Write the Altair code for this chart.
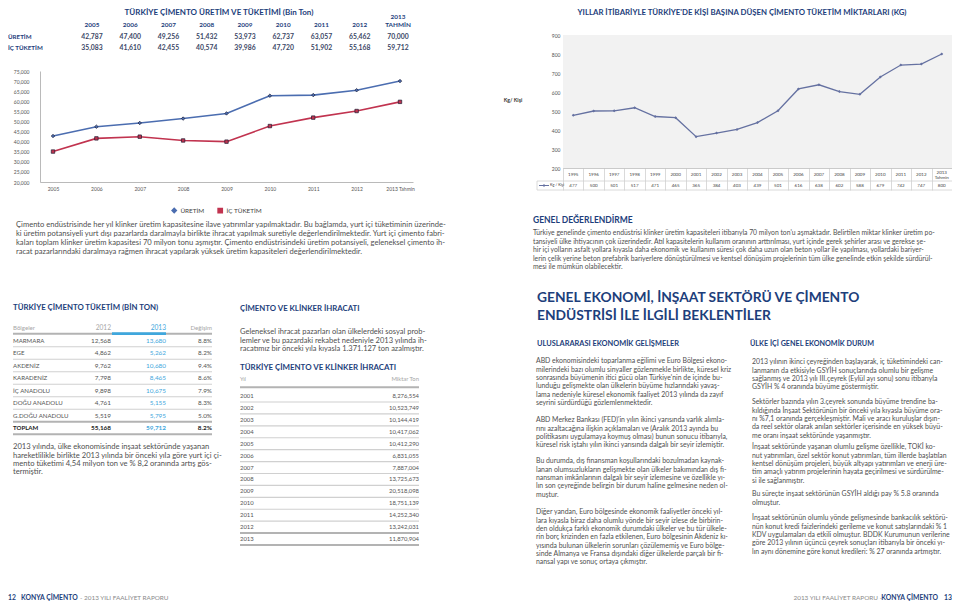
import altair as alt
import pandas as pd

# ---------------- data ----------------
prod_years = ["2005", "2006", "2007", "2008", "2009", "2010", "2011", "2012", "2013"]
prod_header = ["2005", "2006", "2007", "2008", "2009", "2010", "2011", "2012", "TAHMİN"]
prod_header_top = ["", "", "", "", "", "", "", "", "2013"]
series_names = ["ÜRETİM", "İÇ TÜKETİM"]
uretim = [42787, 47400, 49256, 51432, 53973, 62737, 63057, 65462, 70000]
ic_tuketim = [35083, 41610, 42455, 40574, 39986, 47720, 51902, 55168, 59712]
prod_ticks = [20000, 25000, 30000, 35000, 40000, 45000, 50000, 55000, 60000, 65000, 70000, 75000]

kg_years = ["1995", "1996", "1997", "1998", "1999", "2000", "2001", "2002", "2003", "2004",
            "2005", "2006", "2007", "2008", "2009", "2010", "2011", "2012", "2013"]
kg_labels = ["1995", "1996", "1997", "1998", "1999", "2000", "2001", "2002", "2003", "2004",
             "2005", "2006", "2007", "2008", "2009", "2010", "2011", "2012", "2013\nTahmin"]
kg_values = [477, 500, 501, 517, 471, 465, 365, 384, 403, 439, 501, 616, 638, 602, 588, 679, 742, 747, 800]
kg_ticks = [200, 300, 400, 500, 600, 700, 800, 900]

regions = ["MARMARA", "EGE", "AKDENİZ", "KARADENİZ", "İÇ ANADOLU", "DOĞU ANADOLU", "G.DOĞU ANADOLU", "TOPLAM"]
cons_2012 = [12568, 4862, 9762, 7798, 9898, 4761, 5519, 55168]
cons_2013 = [13680, 5262, 10680, 8465, 10675, 5155, 5795, 59712]
cons_change = ["8.8%", "8.2%", "9.4%", "8.6%", "7.9%", "8.3%", "5.0%", "8.2%"]

export_years = ["2001", "2002", "2003", "2004", "2005", "2006", "2007", "2008", "2009", "2010", "2011", "2012", "2013"]
export_tons = [8276554, 10523749, 10144419, 10417062, 10412290, 6831055, 7887004, 13725673,
               20518098, 18751139, 14252340, 13242031, 11870904]

# ---------------- texts ----------------
title_left = "TÜRKİYE ÇİMENTO ÜRETİM VE TÜKETİMİ (Bin Ton)"
title_right = "YILLAR İTİBARİYLE TÜRKİYE'DE KİŞİ BAŞINA DÜŞEN ÇİMENTO TÜKETİM MİKTARLARI (KG)"
para_left = [
    "Çimento endüstrisinde  her yıl klinker üretim kapasitesine ilave yatırımlar yapılmaktadır. Bu bağlamda, yurt içi tüketiminin üzerinde-",
    "ki üretim potansiyeli yurt dışı pazarlarda daralmayla birlikte ihracat yapılmak suretiyle değerlendirilmektedir. Yurt içi çimento fabri-",
    "kaları toplam klinker üretim kapasitesi 70 milyon tonu aşmıştır. Çimento endüstrisindeki üretim potansiyeli, geleneksel çimento ih-",
    "racat pazarlarındaki daralmaya rağmen ihracat yapılarak yüksek üretim kapasiteleri değerlendirilmektedir.",
]
genel_title = "GENEL DEĞERLENDİRME"
genel_para = [
    "Türkiye genelinde çimento endüstrisi klinker üretim kapasiteleri itibarıyla 70 milyon ton'u aşmaktadır. Belirtilen miktar klinker üretim po-",
    "tansiyeli ülke ihtiyacının çok üzerindedir. Atıl kapasitelerin kullanım oranının arttırılması, yurt içinde gerek şehirler arası ve gerekse şe-",
    "hir içi yolların asfalt yollara kıyasla daha ekonomik ve kullanım süresi çok daha uzun olan beton yollar ile yapılması, yollardaki bariyer-",
    "lerin çelik yerine beton prefabrik bariyerlere dönüştürülmesi ve kentsel dönüşüm projelerinin tüm ülke genelinde etkin şekilde sürdürül-",
    "mesi ile mümkün olabilecektir.",
]
cons_title = "TÜRKİYE ÇİMENTO TÜKETİM (BİN TON)"
cons_para = [
    "2013 yılında, ülke ekonomisinde inşaat sektöründe  yaşanan",
    "hareketlilikle birlikte 2013 yılında bir önceki yıla göre yurt içi çi-",
    "mento tüketimi  4,54 milyon ton ve % 8,2 oranında artış gös-",
    "termiştir.",
]
exp_title = "ÇİMENTO VE KLİNKER İHRACATI"
exp_para = [
    "Geleneksel ihracat pazarları olan ülkelerdeki sosyal prob-",
    "lemler ve bu pazardaki rekabet nedeniyle 2013 yılında ih-",
    "racatımız bir önceki yıla kıyasla 1.371.127 ton azalmıştır.",
]
exp_table_title = "TÜRKİYE ÇİMENTO VE KLİNKER İHRACATI"
big_title = ["GENEL EKONOMİ, İNŞAAT SEKTÖRÜ VE ÇİMENTO", "ENDÜSTRİSİ İLE İLGİLİ BEKLENTİLER"]
sub_left = "ULUSLARARASI EKONOMİK GELİŞMELER"
sub_right = "ÜLKE İÇİ GENEL EKONOMİK DURUM"
col_left = [
    ["ABD ekonomisindeki toparlanma eğilimi ve Euro Bölgesi ekono-",
     "milerindeki bazı olumlu sinyaller gözlenmekle birlikte, küresel kriz",
     "sonrasında büyümenin itici gücü olan Türkiye'nin de içinde bu-",
     "lunduğu gelişmekte olan ülkelerin büyüme hızlarındaki yavaş-",
     "lama nedeniyle küresel ekonomik faaliyet 2013 yılında da zayıf",
     "seyrini sürdürdüğü gözlemlenmektedir."],
    ["ABD Merkez Bankası (FED)'in yılın ikinci yarısında varlık alımla-",
     "rını azaltacağına ilişkin açıklamaları ve (Aralık 2013 ayında bu",
     "politikasını uygulamaya koymuş olması) bunun sonucu itibarıyla,",
     "küresel risk iştahı yılın ikinci yarısında dalgalı bir seyir izlemiştir."],
    ["Bu durumda, dış finansman koşullarındaki bozulmadan kaynak-",
     "lanan olumsuzlukların gelişmekte olan ülkeler bakımından dış fi-",
     "nansman imkânlarının dalgalı bir seyir izlemesine ve özellikle yı-",
     "lın son çeyreğinde belirgin bir durum haline gelmesine neden ol-",
     "muştur."],
    ["Diğer yandan, Euro bölgesinde ekonomik faaliyetler önceki yıl-",
     "lara kıyasla biraz daha olumlu yönde bir seyir izlese de birbirin-",
     "den oldukça farklı ekonomik durumdaki ülkeler ve bu tür ülkele-",
     "rin borç krizinden en fazla etkilenen, Euro bölgesinin Akdeniz kı-",
     "yısında bulunan ülkelerin sorunları çözülememiş ve Euro bölge-",
     "sinde Almanya ve Fransa dışındaki diğer ülkelerde parçalı bir fi-",
     "nansal yapı ve sonuç ortaya çıkmıştır."],
]
col_left_y = [362, 421, 462, 513]
col_right = [
    ["2013 yılının ikinci çeyreğinden başlayarak, iç tüketimindeki can-",
     "lanmanın da etkisiyle GSYİH sonuçlarında olumlu bir gelişme",
     "sağlanmış ve 2013 yılı III.çeyrek (Eylül ayı sonu) sonu itibarıyla",
     "GSYİH % 4 oranında büyüme göstermiştir."],
    ["Sektörler bazında yılın 3.çeyrek sonunda büyüme trendine ba-",
     "kıldığında İnşaat Sektörünün bir önceki yıla kıyasla büyüme ora-",
     "nı %7,1 oranında gerçekleşmiştir. Mali ve aracı kuruluşlar dışın-",
     "da reel sektör olarak anılan sektörler içerisinde en yüksek büyü-",
     "me oranı inşaat sektöründe yaşanmıştır."],
    ["İnşaat sektöründe yaşanan olumlu gelişme özellikle, TOKİ ko-",
     "nut yatırımları, özel sektör konut yatırımları, tüm illerde başlatılan",
     "kentsel dönüşüm projeleri, büyük altyapı yatırımları ve enerji üre-",
     "tim amaçlı yatırım projelerinin hayata geçirilmesi ve sürdürülme-",
     "si ile sağlanmıştır."],
    ["Bu süreçte inşaat sektörünün GSYİH aldığı pay % 5.8 oranında",
     "olmuştur."],
    ["İnşaat sektörünün olumlu yönde gelişmesinde bankacılık sektörü-",
     "nün konut kredi faizlerindeki gerileme ve konut satışlarındaki % 1",
     "KDV uygulamaları da etkili olmuştur. BDDK Kurumunun verilerine",
     "göre 2013 yılının üçüncü çeyrek sonuçları itibarıyla bir önceki yı-",
     "lın aynı dönemine göre konut kredileri: % 27 oranında artmıştır."],
]
col_right_y = [363, 403, 448, 495, 519]

# ---------------- layout helpers (page pixels -> canvas pixels) ----------------
W, H = 944, 594


def X(px):
    return round(min(max(px, 8), 952) - 8, 2)


def Y(py):
    return round(min(max(py, 8), 602) - 8, 2)


FONT = "Lato"
NAVY = "#1d3e7b"
TXT = "#4f4f4f"
LIGHT = "#a6a6a6"
LBLUE = "#3fa7dd"
BLUE = "#4b6db0"
RED = "#c1334f"
SLATE = "#6571a1"
RULE = "#d0d0d0"
RULE_DARK = "#b3b3b3"

ONE = pd.DataFrame({"k": [0]})


def txt(text, x, y, size, color=TXT, bold=False, align="left", lh=None, caps=False):
    kw = dict(align=align, baseline="top", font=FONT, fontSize=size, color=color)
    if bold:
        kw["fontWeight"] = "bold"
    if lh is not None:
        kw["lineHeight"] = lh
    dy = (0.43 if caps else 0.53) * size
    return alt.Chart(ONE).mark_text(**kw).encode(
        x=alt.value(X(x)), y=alt.value(round(Y(y) - dy, 2)), text=alt.value(text))


def hline(x1, x2, y, color=RULE, width=1.0):
    return alt.Chart(ONE).mark_rule(color=color, strokeWidth=width).encode(
        x=alt.value(X(x1)), x2=alt.value(X(x2)), y=alt.value(Y(y)))


layers = []

# ============ top-left: production table ============
prod_df = pd.DataFrame({
    "year": prod_years * 2,
    "series": [series_names[0]] * len(prod_years) + [series_names[1]] * len(prod_years),
    "value": uretim + ic_tuketim,
})
head_df = pd.DataFrame({"year": prod_years, "head": prod_header, "top": prod_header_top})

x_tbl = alt.X("year:N", sort=prod_years, title=None, axis=None,
              scale=alt.Scale(type="point", domain=prod_years, range=[X(92), X(398)], padding=0))
y_tbl = alt.Y("series:N", sort=series_names, title=None, axis=None,
              scale=alt.Scale(type="point", domain=series_names, range=[Y(37), Y(48)], padding=0))

layers.append(txt(title_left, 219, 12.5, 8.0, color=NAVY, bold=True, align="center", caps=True))
layers.append(alt.Chart(head_df).mark_text(
    font=FONT, fontSize=6.4, fontWeight="bold", color=NAVY, baseline="middle").encode(
    x=x_tbl, y=alt.value(Y(25)), text="head:N"))
layers.append(alt.Chart(head_df).mark_text(
    font=FONT, fontSize=6.4, fontWeight="bold", color=NAVY, baseline="middle").encode(
    x=x_tbl, y=alt.value(Y(17)), text="top:N"))
layers.append(alt.Chart(prod_df).mark_text(
    font=FONT, fontSize=6.8, fontWeight="bold", color="#3b4766", baseline="middle").encode(
    x=x_tbl, y=y_tbl, text=alt.Text("value:Q", format=",")))
layers.append(alt.Chart(pd.DataFrame({"series": series_names})).mark_text(
    font=FONT, fontSize=6.2, fontWeight="bold", color=NAVY, baseline="middle", align="left").encode(
    x=alt.value(X(2)), y=y_tbl, text="series:N"))

# ============ top-left: production line chart ============


def px_prod(axis=None):
    return alt.X("year:N", sort=prod_years, title=None, axis=axis,
                 scale=alt.Scale(type="point", domain=prod_years, range=[X(40), X(413)], padding=0.3))


def py_prod(axis=None):
    return alt.Y("value:Q", title=None, axis=axis,
                 scale=alt.Scale(domain=[20000, 75000], range=[Y(182), Y(71)], nice=False, zero=False))


x_axis_prod = alt.Axis(orient="bottom", offset=-(H - Y(182)),
                       labelExpr="datum.value == '2013' ? '2013 Tahmin' : datum.value",
                       labelFont=FONT, labelFontSize=5, labelColor="#555555", labelAngle=0,
                       labelPadding=4, ticks=False, domainColor="#a8a8a8", domainWidth=0.8,
                       grid=False, labelOverlap=False)
y_axis_prod = alt.Axis(orient="left", offset=-X(40), values=prod_ticks,
                       labelExpr="format(datum.value, ',')",
                       labelFont=FONT, labelFontSize=5, labelColor="#555555", labelPadding=11,
                       ticks=False, domainColor="#a8a8a8", domainWidth=0.8, grid=False,
                       labelOverlap=False)
legend_prod = alt.Legend(orient="none", legendX=X(171), legendY=Y(207), direction="horizontal",
                         title=None, labelFont=FONT, labelFontSize=6.4, labelColor="#444444",
                         symbolSize=18, columnPadding=10, labelOffset=3)
color_prod = alt.Color("series:N", sort=series_names, legend=legend_prod,
                       scale=alt.Scale(domain=series_names, range=[BLUE, RED]))
shape_prod = alt.Shape("series:N", sort=series_names, legend=legend_prod,
                       scale=alt.Scale(domain=series_names, range=["diamond", "square"]))

layers.append(alt.Chart(prod_df).mark_line(strokeWidth=1.6).encode(
    x=px_prod(x_axis_prod), y=py_prod(y_axis_prod), color=color_prod))
layers.append(alt.Chart(prod_df).mark_point(filled=True, size=12, opacity=1, stroke="#1d1d33",
                                            strokeWidth=0.7).encode(
    x=px_prod(), y=py_prod(), color=color_prod, shape=shape_prod))

layers.append(txt(para_left, 16, 225.5, 7.6, lh=8.9))

# ============ top-right: per-capita chart ============
kg_df = pd.DataFrame({"year": kg_years, "label": kg_labels, "kg": kg_values})


def px_kg(axis=None):
    return alt.X("year:N", sort=kg_years, title=None, axis=axis,
                 scale=alt.Scale(type="band", domain=kg_years, range=[X(563), X(959)],
                                 paddingInner=0, paddingOuter=0))


def py_kg(axis=None):
    return alt.Y("kg:Q", title=None, axis=axis,
                 scale=alt.Scale(domain=[200, 900], range=[Y(168), Y(35)], nice=False, zero=False))


x_axis_kg = alt.Axis(orient="bottom", offset=-(H - Y(168)), labels=False, ticks=True,
                     tickBand="extent", tickSize=round(Y(190) - Y(168), 2), tickColor=RULE,
                     tickWidth=0.8, domainColor="#bdbdbd", domainWidth=0.8, grid=False)
y_axis_kg = alt.Axis(orient="left", offset=-X(563), values=kg_ticks, labelFont=FONT,
                     labelFontSize=5, labelColor="#555555", labelPadding=3, ticks=False,
                     domainColor="#bdbdbd", domainWidth=0.8, grid=False, labelOverlap=False)

layers.insert(0, alt.Chart(ONE).mark_rect(color="#f2f2f2").encode(
    x=alt.value(X(563)), x2=alt.value(X(959)), y=alt.value(Y(35)), y2=alt.value(Y(168))))
layers.append(txt(title_right, 742, 12.5, 7.8, color=NAVY, bold=True, align="center", caps=True))
layers.append(txt("Kg/ Kişi", 513, 101, 5.2, color="#333333", bold=True, align="center"))
layers.append(alt.Chart(kg_df).mark_line(color=SLATE, strokeWidth=1.3).encode(
    x=px_kg(x_axis_kg), y=py_kg(y_axis_kg)))
layers.append(alt.Chart(kg_df).mark_point(shape="diamond", filled=True, size=9, color=SLATE,
                                          opacity=1).encode(x=px_kg(), y=py_kg()))
layers.append(hline(537, 959, 181, color=RULE, width=0.8))
layers.append(hline(537, 959, 190, color=RULE, width=0.8))
layers.append(alt.Chart(ONE).mark_rule(color=RULE, strokeWidth=0.8).encode(
    x=alt.value(X(537)), y=alt.value(Y(181)), y2=alt.value(Y(190))))
layers.append(alt.Chart(kg_df).transform_filter(
    alt.FieldOneOfPredicate(field="year", oneOf=kg_years[:-1])).mark_text(
    font=FONT, fontSize=4.5, color="#444444", baseline="middle").encode(
    x=px_kg(), y=alt.value(Y(175)), text="label:N"))
layers.append(alt.Chart(kg_df).transform_filter(
    alt.FieldOneOfPredicate(field="year", oneOf=kg_years[-1:])).mark_text(
    font=FONT, fontSize=4.5, color="#444444", baseline="top", lineBreak="\n",
    lineHeight=5.5).encode(
    x=px_kg(), y=alt.value(Y(169.8)), text="label:N"))
layers.append(alt.Chart(kg_df).mark_text(
    font=FONT, fontSize=4.5, color="#444444", baseline="middle").encode(
    x=px_kg(), y=alt.value(Y(185.5)), text=alt.Text("kg:Q", format="d")))
# key of the data table row
layers.append(alt.Chart(ONE).mark_rule(color=SLATE, strokeWidth=1).encode(
    x=alt.value(X(539)), x2=alt.value(X(549)), y=alt.value(Y(185.5))))
layers.append(alt.Chart(ONE).mark_point(shape="diamond", filled=True, size=8, color=SLATE,
                                        opacity=1).encode(x=alt.value(X(544)), y=alt.value(Y(185.5))))
layers.append(txt("Kg / Kişi", 550, 185.5, 3.8, color="#444444"))

# GENEL DEĞERLENDİRME
layers.append(txt(genel_title, 533, 220, 8.5, color=NAVY, bold=True, caps=True))
layers.append(txt(genel_para, 533, 234, 6.8, lh=8.5))

# ============ bottom-left: consumption table ============
cons_df = pd.DataFrame({"region": regions, "c12": cons_2012, "c13": cons_2013, "chg": cons_change})
y_cons = alt.Y("region:N", sort=regions, title=None, axis=None,
               scale=alt.Scale(type="point", domain=regions, range=[Y(340.5), Y(428)], padding=0))
cons_body = alt.Chart(cons_df).transform_filter(
    alt.FieldOneOfPredicate(field="region", oneOf=regions[:-1]))
cons_total = alt.Chart(cons_df).transform_filter(
    alt.FieldOneOfPredicate(field="region", oneOf=regions[-1:]))

layers.append(txt(cons_title, 13, 307, 7.8, color=NAVY, bold=True, caps=True))
layers.append(txt("Bölgeler", 13, 328, 6.1, color=LIGHT))
layers.append(txt("2012", 111, 328, 6.6, color=LIGHT, align="right"))
layers.append(txt("2013", 166, 328, 6.6, color=LBLUE, align="right"))
layers.append(txt("Değişim", 212, 328, 6.1, color=LIGHT, align="right"))
layers.append(hline(13, 212, 333.8, color=RULE_DARK, width=2))
layers.append(hline(112, 166, 333.6, color=LBLUE, width=2.6))

sep_thin = alt.Chart(cons_df).transform_filter(
    alt.FieldOneOfPredicate(field="region", oneOf=regions[:-2]))
sep_thick = alt.Chart(cons_df).transform_filter(
    alt.FieldOneOfPredicate(field="region", oneOf=regions[-2:]))
layers.append(sep_thin.mark_rule(color=RULE, strokeWidth=1.2, yOffset=6.25).encode(
    x=alt.value(X(13)), x2=alt.value(X(212)), y=y_cons))
layers.append(sep_thick.mark_rule(color=RULE_DARK, strokeWidth=2, yOffset=6.25).encode(
    x=alt.value(X(13)), x2=alt.value(X(212)), y=y_cons))

for chart, weight, dark in [(cons_body, "normal", "#555555"), (cons_total, "bold", "#222222")]:
    layers.append(chart.mark_text(font=FONT, fontSize=6.1, fontWeight=weight, color=dark,
                                  baseline="middle", align="left").encode(
        x=alt.value(X(13)), y=y_cons, text="region:N"))
    layers.append(chart.mark_text(font=FONT, fontSize=6.4, fontWeight=weight, color=dark,
                                  baseline="middle", align="right").encode(
        x=alt.value(X(111)), y=y_cons, text=alt.Text("c12:Q", format=",")))
    layers.append(chart.mark_text(font=FONT, fontSize=6.4, fontWeight=weight, color=LBLUE,
                                  baseline="middle", align="right").encode(
        x=alt.value(X(166)), y=y_cons, text=alt.Text("c13:Q", format=",")))
    layers.append(chart.mark_text(font=FONT, fontSize=6.4, fontWeight=weight, color=dark,
                                  baseline="middle", align="right").encode(
        x=alt.value(X(212)), y=y_cons, text="chg:N"))

layers.append(txt(cons_para, 13, 447.5, 7.6, lh=8.2))

# ============ bottom-middle: exports ============
exp_df = pd.DataFrame({"year": export_years, "tons": export_tons})
y_exp = alt.Y("year:N", sort=export_years, title=None, axis=None,
              scale=alt.Scale(type="point", domain=export_years, range=[Y(396), Y(539)], padding=0))
layers.append(txt(exp_title, 240, 308, 7.8, color=NAVY, bold=True, caps=True))
layers.append(txt(exp_para, 240, 332, 7.5, lh=8.5))
layers.append(txt(exp_table_title, 240, 367, 7.9, color=NAVY, bold=True, caps=True))
layers.append(txt("Yıl", 240, 379, 5.9, color=LIGHT))
layers.append(txt("Miktar Ton", 419, 379, 5.9, color=LIGHT, align="right"))
layers.append(hline(240, 419, 387.3, color=RULE_DARK, width=2))
exp_thin = alt.Chart(exp_df).transform_filter(
    alt.FieldOneOfPredicate(field="year", oneOf=export_years[:-2]))
exp_thick = alt.Chart(exp_df).transform_filter(
    alt.FieldOneOfPredicate(field="year", oneOf=export_years[-2:]))
layers.append(exp_thin.mark_rule(color=RULE, strokeWidth=1.2, yOffset=6).encode(
    x=alt.value(X(240)), x2=alt.value(X(419)), y=y_exp))
layers.append(exp_thick.mark_rule(color=RULE_DARK, strokeWidth=2, yOffset=6).encode(
    x=alt.value(X(240)), x2=alt.value(X(419)), y=y_exp))
layers.append(alt.Chart(exp_df).mark_text(font=FONT, fontSize=5.9, color="#555555",
                                          baseline="middle", align="left").encode(
    x=alt.value(X(240)), y=y_exp, text="year:N"))
layers.append(alt.Chart(exp_df).mark_text(font=FONT, fontSize=5.9, color="#555555",
                                          baseline="middle", align="right").encode(
    x=alt.value(X(419)), y=y_exp, text=alt.Text("tons:Q", format=",")))

# ============ bottom-right: economy text ============
layers.append(txt(big_title, 537, 297, 13.8, color=NAVY, bold=True, lh=18, caps=True))
layers.append(txt(sub_left, 537, 343, 7.4, color=NAVY, bold=True, caps=True))
layers.append(txt(sub_right, 750, 343, 7.2, color=NAVY, bold=True, caps=True))
for lines, y in zip(col_left, col_left_y):
    layers.append(txt(lines, 536, y, 6.9, lh=8.3))
for lines, y in zip(col_right, col_right_y):
    layers.append(txt(lines, 752, y, 6.9, lh=8.3))

# ============ footers ============
layers.append(txt("12", 5, 598, 6.8, color=NAVY, bold=True, caps=True))
layers.append(txt("KONYA ÇİMENTO", 21, 598, 6.8, color=NAVY, bold=True, caps=True))
layers.append(txt("- 2013 YILI FAALİYET RAPORU", 80, 598, 6.4, color="#8a8a8a", caps=True))
layers.append(txt("2013 YILI FAALİYET RAPORU -", 882, 598, 6.4, color="#8a8a8a", align="right", caps=True))
layers.append(txt("KONYA ÇİMENTO", 938, 598, 6.8, color=NAVY, bold=True, align="right", caps=True))
layers.append(txt("13", 955, 598, 6.8, color=NAVY, bold=True, align="right", caps=True))

chart = alt.layer(*layers).resolve_scale(
    x="independent", y="independent"
).properties(
    width=W, height=H, padding=0, autosize=alt.AutoSizeParams(type="none"), background="white"
).configure_view(stroke=None)

chart.save("out.html", embed_options={"renderer": "svg", "actions": False})
